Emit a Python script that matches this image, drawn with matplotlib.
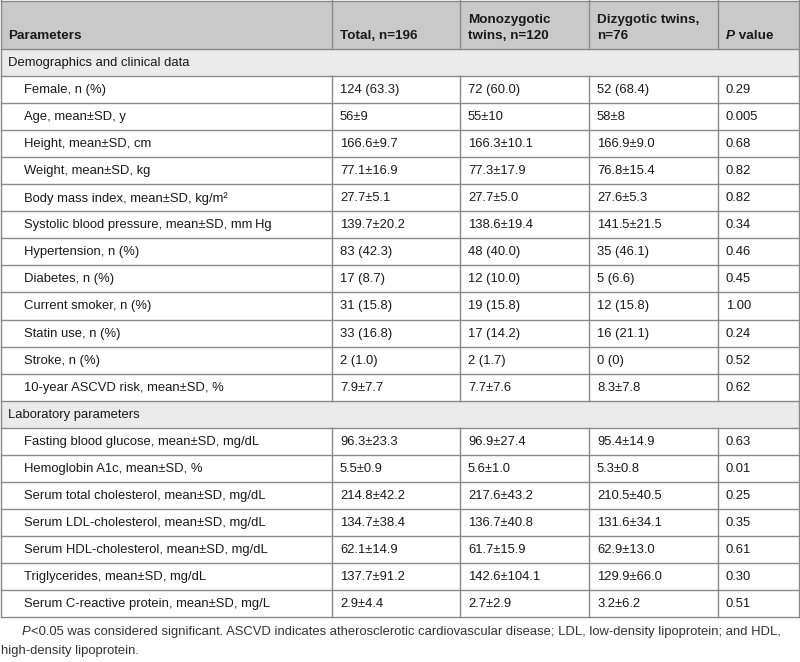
import matplotlib
matplotlib.use('Agg')
import matplotlib.pyplot as plt
from matplotlib.patches import Rectangle

plt.rcParams['font.family'] = ['Liberation Sans', 'DejaVu Sans']

# Table content
headers = ['Parameters', 'Total, n=196', 'Monozygotic\ntwins, n=120', 'Dizygotic twins,\nn=76', 'value']

demo_title = 'Demographics and clinical data'
demo_labels = ['Female, n (%)', 'Age, mean±SD, y', 'Height, mean±SD, cm', 'Weight, mean±SD, kg',
               'Body mass index, mean±SD, kg/m²', 'Systolic blood pressure, mean±SD, mm\u2009Hg',
               'Hypertension, n (%)', 'Diabetes, n (%)', 'Current smoker, n (%)', 'Statin use, n (%)',
               'Stroke, n (%)', '10-year ASCVD risk, mean±SD, %']
demo_total = ['124 (63.3)', '56±9', '166.6±9.7', '77.1±16.9', '27.7±5.1', '139.7±20.2',
              '83 (42.3)', '17 (8.7)', '31 (15.8)', '33 (16.8)', '2 (1.0)', '7.9±7.7']
demo_mono = ['72 (60.0)', '55±10', '166.3±10.1', '77.3±17.9', '27.7±5.0', '138.6±19.4',
             '48 (40.0)', '12 (10.0)', '19 (15.8)', '17 (14.2)', '2 (1.7)', '7.7±7.6']
demo_di = ['52 (68.4)', '58±8', '166.9±9.0', '76.8±15.4', '27.6±5.3', '141.5±21.5',
           '35 (46.1)', '5 (6.6)', '12 (15.8)', '16 (21.1)', '0 (0)', '8.3±7.8']
demo_p = ['0.29', '0.005', '0.68', '0.82', '0.82', '0.34', '0.46', '0.45', '1.00', '0.24', '0.52', '0.62']

lab_title = 'Laboratory parameters'
lab_labels = ['Fasting blood glucose, mean±SD, mg/dL', 'Hemoglobin A1c, mean±SD, %',
              'Serum total cholesterol, mean±SD, mg/dL', 'Serum LDL-cholesterol, mean±SD, mg/dL',
              'Serum HDL-cholesterol, mean±SD, mg/dL', 'Triglycerides, mean±SD, mg/dL',
              'Serum C-reactive protein, mean±SD, mg/L']
lab_total = ['96.3±23.3', '5.5±0.9', '214.8±42.2', '134.7±38.4', '62.1±14.9', '137.7±91.2', '2.9±4.4']
lab_mono = ['96.9±27.4', '5.6±1.0', '217.6±43.2', '136.7±40.8', '61.7±15.9', '142.6±104.1', '2.7±2.9']
lab_di = ['95.4±14.9', '5.3±0.8', '210.5±40.5', '131.6±34.1', '62.9±13.0', '129.9±66.0', '3.2±6.2']
lab_p = ['0.63', '0.01', '0.25', '0.35', '0.61', '0.30', '0.51']

footnote1 = '<0.05 was considered significant. ASCVD indicates atherosclerotic cardiovascular disease; LDL, low-density lipoprotein; and HDL,'
footnote2 = 'high-density lipoprotein.'

# layout (pixels)
W, H = 800, 662
col_edges = [0.5, 332, 460, 589, 718, 799]
header_h = 49
row_h = 27.05
fs = 9.4
txt = '#1a1a1a'
line_c = '#8a8a8a'

fig = plt.figure(figsize=(W / 100, H / 100), dpi=100)
ax = fig.add_axes([0, 0, 1, 1])
ax.set_xlim(0, W)
ax.set_ylim(H, 0)
ax.axis('off')

# header
ax.add_patch(Rectangle((col_edges[0], 0.5), col_edges[-1] - col_edges[0], header_h - 0.5,
                       facecolor='#c9c9c9', edgecolor='none'))
for i, h in enumerate(headers):
    x = col_edges[i] + 8
    if i == 4:
        t = ax.text(x, header_h - 7, 'P', fontsize=fs + 0.3, fontweight='bold', fontstyle='italic',
                    color=txt, va='bottom', ha='left')
        ax.annotate(' ' + h, xy=(1, 0), xycoords=t, fontsize=fs + 0.3, fontweight='bold',
                    color=txt, va='bottom', ha='left')
    else:
        ax.text(x, header_h - 7, h, fontsize=fs + 0.3, fontweight='bold', color=txt,
                va='bottom', ha='left', linespacing=1.45)

rows = [('section', demo_title)]
rows += [('data', r) for r in zip(demo_labels, demo_total, demo_mono, demo_di, demo_p)]
rows += [('section', lab_title)]
rows += [('data', r) for r in zip(lab_labels, lab_total, lab_mono, lab_di, lab_p)]

y = header_h
for kind, content in rows:
    yc = y + row_h / 2 + 0.5
    if kind == 'section':
        ax.add_patch(Rectangle((col_edges[0], y), col_edges[-1] - col_edges[0], row_h,
                               facecolor='#ebebeb', edgecolor='none'))
        ax.text(col_edges[0] + 8, yc, content, fontsize=fs, color=txt, va='center', ha='left')
    else:
        for j, cell in enumerate(content):
            pad = 23 if j == 0 else 8
            ax.text(col_edges[j] + pad, yc, cell, fontsize=fs, color=txt, va='center', ha='left')
        for xe in col_edges[1:-1]:
            ax.plot([xe, xe], [y, y + row_h], color=line_c, lw=1)
    ax.plot([col_edges[0], col_edges[-1]], [y + row_h, y + row_h], color=line_c, lw=1)
    y += row_h

# header grid
for xe in col_edges[1:-1]:
    ax.plot([xe, xe], [0, header_h], color=line_c, lw=1)
ax.plot([col_edges[0], col_edges[-1]], [0.5, 0.5], color=line_c, lw=1)
ax.plot([col_edges[0], col_edges[-1]], [header_h, header_h], color=line_c, lw=1)
for xe in (col_edges[0], col_edges[-1]):
    ax.plot([xe, xe], [0, y], color=line_c, lw=1)

# footnote, shrunk to fit the table width (no condensed face available)
fn_col = '#333333'
fn_fs = fs
renderer = fig.canvas.get_renderer()
probe = ax.text(0, 0, 'P' + footnote1, fontsize=fn_fs)
wpx = probe.get_window_extent(renderer).width
probe.remove()
if wpx > 775:
    fn_fs = fn_fs * 775 / wpx
t = ax.text(22, y + 15, 'P', fontsize=fn_fs, fontstyle='italic', color=fn_col,
            va='center', ha='left')
ax.annotate(footnote1, xy=(1, 0), xycoords=t, fontsize=fn_fs, color=fn_col,
            va='bottom', ha='left')
ax.text(1, y + 34, footnote2, fontsize=fn_fs, color=fn_col, va='center', ha='left')

fig.savefig('out.png', dpi=100)
